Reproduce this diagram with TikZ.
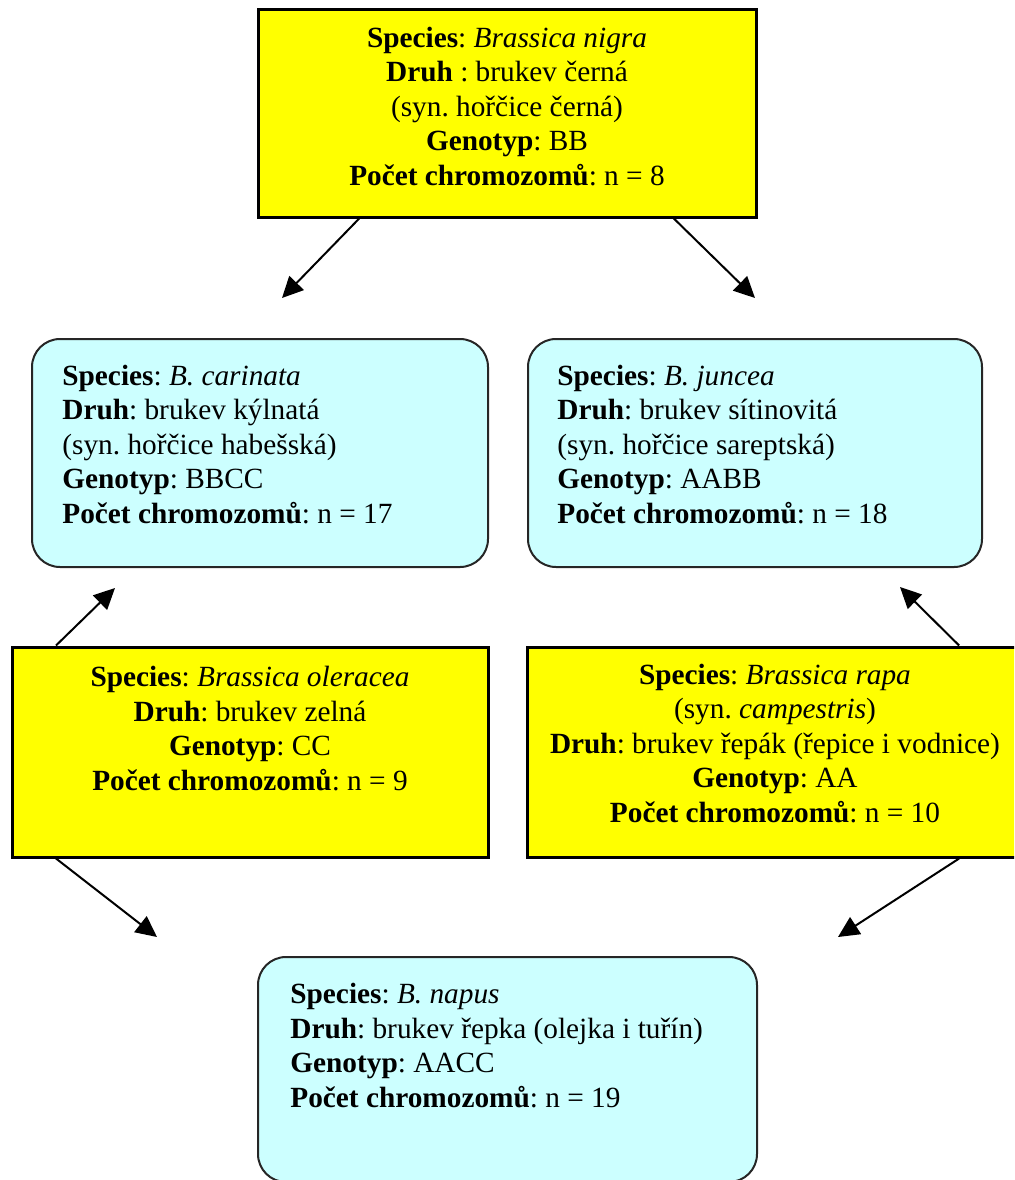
\documentclass[tikz,border=0pt]{standalone}
\usepackage{fontspec}
\setmainfont{Liberation Serif}
\usetikzlibrary{arrows.meta,calc}
\definecolor{boxyellow}{HTML}{FFFF00}
\definecolor{boxcyan}{HTML}{CCFFFF}
\frenchspacing
\begin{document}
\frenchspacing
\begin{tikzpicture}[x=0.5pt,y=-0.5pt,
  ybox/.style={draw=black,line width=1.5pt,fill=boxyellow,inner sep=0pt},
  cbox/.style={draw=black!85,line width=1pt,fill=boxcyan,rounded corners=14pt,inner sep=0pt},
  txt/.style={font=\fontsize{14.65}{17.25}\selectfont,inner sep=0pt},
  ctxt/.style={txt,align=center,anchor=base},
  ltxt/.style={txt,align=left,anchor=base west},
  link/.style={line width=1pt,-{Triangle[length=10.5pt,width=10pt]}}]
\useasboundingbox (0,0) rectangle (1014,1180);
\clip (0,0) rectangle (1014,1180);
% boxes
\node[ybox,minimum width=249pt,minimum height=104pt] (nigra) at (507,113) {};
\node[cbox,minimum width=228pt,minimum height=114pt] (carinata) at (260,453) {};
\node[cbox,minimum width=227pt,minimum height=114pt] (juncea) at (755,453) {};
\node[ybox,minimum width=238pt,minimum height=105pt] (oleracea) at (250,752) {};
\node[ybox,minimum width=248pt,minimum height=105pt] (rapa) at (775,752) {};
\node[cbox,minimum width=249.5pt,minimum height=112.5pt] (napus) at (507.5,1069.5) {};
% texts (anchored at the baseline of the last line)
\node[ctxt] (nigraT) at (507,185) {\textbf{Species}: \textit{Brassica nigra}\\
  \textbf{Druh} : brukev černá\\
  (syn. hořčice černá)\\
  \textbf{Genotyp}: BB\\
  \textbf{Počet chromozomů}: n = 8};
\node[ltxt] (carinataT) at (62,523) {\textbf{Species}: \textit{B. carinata}\\
  \textbf{Druh}: brukev kýlnatá\\
  (syn. hořčice habešská)\\
  \textbf{Genotyp}: BBCC\\
  \textbf{Počet chromozomů}: n = 17};
\node[ltxt] (junceaT) at (557,523) {\textbf{Species}: \textit{B. juncea}\\
  \textbf{Druh}: brukev sítinovitá\\
  (syn. hořčice sareptská)\\
  \textbf{Genotyp}: AABB\\
  \textbf{Počet chromozomů}: n = 18};
\node[ctxt] (oleraceaT) at (250,790) {\textbf{Species}: \textit{Brassica oleracea}\\
  \textbf{Druh}: brukev zelná\\
  \textbf{Genotyp}: CC\\
  \textbf{Počet chromozomů}: n = 9};
\node[ctxt] (rapaT) at (775,822) {\textbf{Species}: \textit{Brassica rapa}\\
  (syn. \textit{campestris})\\
  \textbf{Druh}: brukev řepák (řepice i vodnice)\\
  \textbf{Genotyp}: AA\\
  \textbf{Počet chromozomů}: n = 10};
\node[ltxt] (napusT) at (290,1107) {\textbf{Species}: \textit{B. napus}\\
  \textbf{Druh}: brukev řepka (olejka i tuřín)\\
  \textbf{Genotyp}: AACC\\
  \textbf{Počet chromozomů}: n = 19};
% arrow ends
\coordinate (s1) at ($(nigra.south west)!0.205!(nigra.south east)$);
\coordinate (s2) at ($(nigra.south west)!0.833!(nigra.south east)$);
\coordinate (s3) at ($(oleracea.north west)!0.095!(oleracea.north east)$);
\coordinate (s4) at ($(oleracea.south west)!0.095!(oleracea.south east)$);
\coordinate (s5) at ($(rapa.north west)!0.869!(rapa.north east)$);
\coordinate (s6) at ($(rapa.south west)!0.869!(rapa.south east)$);
\coordinate (t1) at (282,298);
\coordinate (t2) at (755,298);
\coordinate (t3) at (115,588);
\coordinate (t4) at (157,937);
\coordinate (t5) at (900,587);
\coordinate (t6) at (838,937);
\draw[link] (s1) -- (t1);
\draw[link] (s2) -- (t2);
\draw[link] (s3) -- (t3);
\draw[link] (s4) -- (t4);
\draw[link] (s5) -- (t5);
\draw[link] (s6) -- (t6);
\end{tikzpicture}
\end{document}
